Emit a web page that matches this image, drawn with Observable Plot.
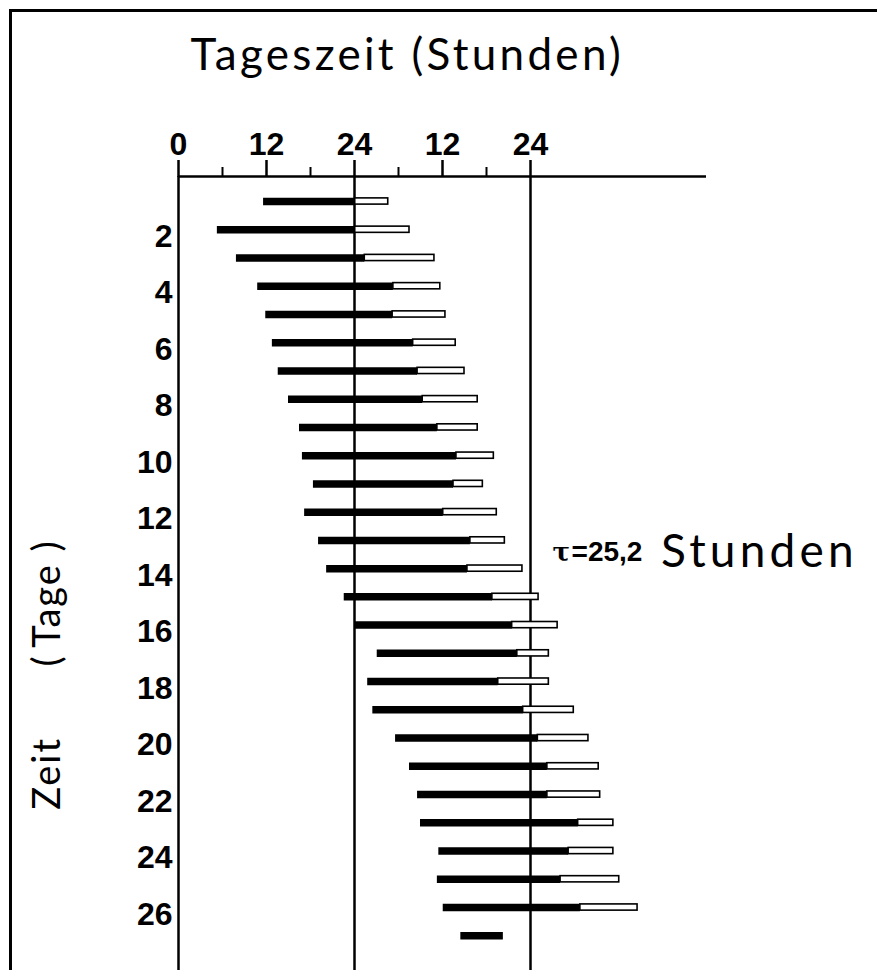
<!DOCTYPE html>
<html>
<head>
<meta charset="utf-8">
<script src="https://cdn.jsdelivr.net/npm/d3@7"></script>
<script src="https://cdn.jsdelivr.net/npm/@observablehq/plot@0.6"></script>
<style>
  body { margin: 0; background: #fff; }
  #wrap { position: relative; width: 877px; height: 970px; overflow: hidden; background: #fff; }
  #border { position: absolute; left: 9px; top: 9px; width: 1000px; height: 1100px;
            border-left: 3px solid #000; border-top: 3px solid #000; }
  #chart { position: absolute; left: 0; top: 0; }
</style>
</head>
<body>
<div id="wrap"><div id="border"></div><div id="chart"></div></div>
<script>
// ---- data (hours from midnight of day 1, double-plotted actogram) ----
const days = [1,2,3,4,5,6,7,8,9,10,11,12,13,14,15,16,17,18,19,20,21,22,23,24,25,26,27];
const activityStart = [11.6,5.3,7.9,10.8,11.9,12.8,13.6,15.0,16.5,16.9,18.4,17.2,19.1,20.2,22.6,24.0,27.1,25.8,26.5,29.6,31.5,32.6,33.0,35.5,35.3,36.1,38.5];
const activityEnd   = [24.1,24.1,25.4,29.3,29.2,32.0,32.6,33.3,35.3,37.9,37.5,36.1,39.8,39.4,42.8,45.5,46.2,43.6,47.0,49.0,50.3,50.3,54.5,53.2,52.1,54.8,44.3];
const restEnd       = [28.6,31.5,34.9,35.7,36.4,37.8,39.0,40.8,40.8,43.0,41.5,43.4,44.5,46.9,49.1,51.7,50.5,50.5,53.9,55.9,57.3,57.5,59.3,59.3,60.1,62.6,null];

const hourTicks = [0,12,24,36,48];
const hourTickLabels = ["0","12","24","12","24"];
const minorHourTicks = [6,18,30,42];
const dayTicks = [2,4,6,8,10,12,14,16,18,20,22,24,26];
const dayLines = [0,24,48];
const hourRange = [0,72];
const dayRange = [0.115,28.23];

const titleText = "Tageszeit (Stunden)";
const yTitleText = "Zeit\u00A0\u00A0\u00A0\u00A0\u00A0\u00A0(\u2009Tage\u00A0)";
const tauLabel = [{x: 51.0, day: 13.43, text: "τ"}];
const tauValue = [{x: 53.6, day: 13.43, text: "=25,2"}];
const tauUnit  = [{x: 65.8, day: 13.43, text: "Stunden"}];

const rows = days.map((d, i) => ({day: d, start: activityStart[i], end: activityEnd[i], rest: restEnd[i]}));

const chart = Plot.plot({
  width: 877,
  height: 970,
  marginTop: 176,
  marginLeft: 178,
  marginRight: 171,
  marginBottom: 0,
  x: {domain: hourRange, axis: null},
  y: {domain: dayRange, reverse: true, axis: null},
  style: {background: "transparent", color: "#000", fontFamily: "'Liberation Sans', Arial, sans-serif"},
  marks: [
    // vertical reference lines (y-axis and day boundaries)
    Plot.ruleX(dayLines, {strokeWidth: 2.5, stroke: "#000"}),
    // horizontal axis line
    Plot.ruleY([dayRange[0]], {x1: () => hourRange[0], x2: () => hourRange[1], strokeWidth: 2.5, stroke: "#000"}),
    Plot.axisX(hourTicks, {anchor: "top", tickSize: 17, tickPadding: 5, strokeWidth: 2.5,
      tickFormat: d => hourTickLabels[hourTicks.indexOf(d)], fontSize: 32, fontWeight: "bold", label: null}),
    Plot.axisX(minorHourTicks, {anchor: "top", tickSize: 10, strokeWidth: 2, tickFormat: () => "", label: null}),
    Plot.axisY(dayTicks, {anchor: "left", tickSize: 0, tickPadding: 6, fontSize: 32, fontWeight: "bold", dy: 7, label: null}),
    // rest (open bars)
    Plot.rect(rows.filter(r => r.rest != null), {
      x1: "end", x2: "rest", y1: d => d.day - 0.11, y2: d => d.day + 0.11,
      fill: "#fff", stroke: "#000", strokeWidth: 1.6
    }),
    // activity (black bars)
    Plot.ruleY(rows, {y: "day", x1: "start", x2: "end", stroke: "#000", strokeWidth: 7.5}),
    // titles
    Plot.text([titleText], {frameAnchor: "top-left", dx: 12, dy: -121, textAnchor: "start", lineAnchor: "middle",
      fontSize: 44, fontFamily: "Lato, sans-serif", fill: "#000"}),
    Plot.text([yTitleText], {frameAnchor: "top-left", dx: -131, dy: 498, rotate: -90, textAnchor: "middle", lineAnchor: "middle",
      fontSize: 38, fontFamily: "Lato, sans-serif", fill: "#000"}),
    // annotation
    Plot.text(tauLabel, {x: "x", y: "day", text: "text", textAnchor: "start", lineAnchor: "middle", fontSize: 26, fontWeight: "bold", fontFamily: "'DejaVu Serif', serif"}),
    Plot.text(tauValue, {x: "x", y: "day", text: "text", textAnchor: "start", lineAnchor: "middle", fontSize: 28, fontWeight: "bold"}),
    Plot.text(tauUnit, {x: "x", y: "day", text: "text", textAnchor: "start", lineAnchor: "middle", fontSize: 46, fontFamily: "Lato, sans-serif"})
  ]
});
d3.select(chart).selectAll("text").each(function() {
  const t = this.textContent;
  if (t === titleText) this.style.letterSpacing = "3.3px";
  else if (t === yTitleText) this.style.letterSpacing = "2px";
  else if (t === "Stunden") this.style.letterSpacing = "4.2px";
});
document.getElementById("chart").appendChild(chart);
</script>
</body>
</html>
